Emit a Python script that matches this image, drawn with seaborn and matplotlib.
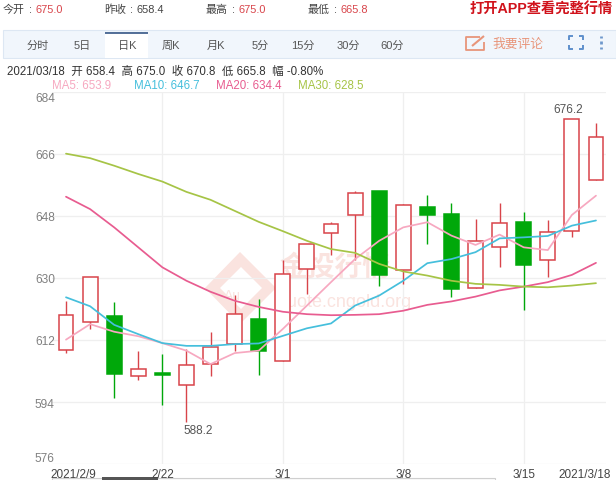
import matplotlib
matplotlib.use("Agg")
import matplotlib.pyplot as plt
from matplotlib.patches import Rectangle, Polygon
from matplotlib.lines import Line2D
from matplotlib.transforms import ScaledTranslation
import numpy as np
import pandas as pd
import seaborn as sns

# Daily candles, 2021/2/9 - 2021/3/18
opens = [609.2, 617.2, 619.1, 601.5, 602.4, 598.9, 605.0, 610.8, 618.1, 605.8, 632.7, 643.2,
         648.4, 655.3, 632.2, 650.6, 648.5, 627.1, 639.0, 646.3, 635.3, 643.6, 658.4]
closes = [619.3, 630.4, 602.0, 603.7, 601.8, 604.6, 609.9, 619.5, 608.9, 631.3, 639.9, 645.6,
          654.7, 631.0, 651.1, 648.4, 626.7, 640.8, 645.9, 633.8, 643.4, 676.2, 670.8]
highs = [623.2, 630.4, 623.0, 608.8, 607.9, 609.3, 614.3, 625.2, 623.8, 635.1, 639.9, 646.3,
         655.3, 655.3, 651.4, 654.0, 651.7, 647.0, 651.7, 649.2, 646.7, 676.2, 675.0]
lows = [608.2, 615.3, 595.2, 600.3, 593.0, 588.2, 601.5, 608.7, 601.9, 605.8, 625.4, 636.6,
        635.3, 627.7, 628.3, 640.0, 624.5, 627.1, 633.2, 620.6, 630.3, 641.9, 658.4]

# Moving averages
ma5 = [612.1, 616.6, 614.4, 613.1, 611.1, 608.9, 605.0, 608.2, 608.9, 615.2, 622.0, 628.8,
       635.5, 640.8, 644.7, 646.2, 642.3, 639.6, 642.6, 638.9, 638.1, 648.3, 653.9]
ma10 = [624.4, 621.8, 616.4, 613.7, 611.1, 610.3, 610.3, 610.8, 611.0, 613.2, 615.4, 616.8,
        622.0, 624.9, 629.2, 634.3, 635.5, 637.5, 641.5, 641.8, 642.2, 645.2, 646.7]
ma20 = [653.6, 650.0, 644.7, 638.9, 633.1, 629.2, 626.0, 623.4, 621.6, 620.2, 619.5, 619.2,
        619.3, 619.5, 620.5, 622.2, 623.2, 624.6, 626.4, 627.5, 628.8, 630.9, 634.4]
ma30 = [666.1, 664.8, 662.6, 660.2, 658.0, 655.0, 652.7, 649.5, 646.3, 643.6, 640.8, 638.4,
        637.3, 634.1, 631.9, 630.7, 629.2, 628.3, 628.0, 627.5, 627.3, 627.8, 628.5]

y_ticks = [576, 594, 612, 630, 648, 666, 684]
x_tick_pos = [0, 4, 9, 14, 19, 22]
x_tick_labels = ["2021/2/9", "2/22", "3/1", "3/8", "3/15", "2021/3/18"]
tabs = ["分时", "5日", "日K", "周K", "月K", "5分", "15分", "30分", "60分"]
ma_names = ["MA5", "MA10", "MA20", "MA30"]
ma_colors = ["#f7a8c0", "#45bfdc", "#e85c90", "#a6c446"]

W, H = 616, 481
FONT = ["Liberation Sans", "Noto Sans CJK SC"]
RED, GREEN = "#d8444a", "#00a80a"
GRID = "#efefef"

sns.set_theme(style="white")
plt.rcParams["font.family"] = FONT

fig = plt.figure(figsize=(W / 100, H / 100), dpi=100, facecolor="white")


def fx(x):
    return x / W


def fy(y):
    return 1 - y / H


def label(x, y, s, color="#333333", size=8.3, ha="left", **kw):
    fig.text(fx(x), fy(y), s, color=color, fontsize=size, ha=ha, va="center", family=FONT, **kw)


def box(x0, y0, x1, y1, **kw):
    fig.add_artist(Rectangle((fx(x0), fy(y1)), (x1 - x0) / W, (y1 - y0) / H,
                             transform=fig.transFigure, **kw))


def stroke(xs, ys, color, lw=1.6):
    fig.add_artist(Line2D([fx(v) for v in xs], [fy(v) for v in ys], color=color, lw=lw,
                          transform=fig.transFigure, solid_capstyle="butt"))


# Quote summary row
summary = [(3, "今开", "675.0", RED), (104, "昨收", "658.4", "#444444"),
           (206, "最高", "675.0", RED), (308, "最低", "665.8", RED)]
for x0, head, num, col in summary:
    label(x0, 10, head, color="#444444", size=7.9)
    label(x0 + 26, 10, ":", color="#444444", size=7.9)
    label(x0 + 32.5, 10, num, color=col, size=7.9)
label(613, 10, "打开APP查看完整行情", color="#d0121b", size=10.3, ha="right", fontweight="bold")

# Period tab bar
box(3, 31, 616, 58.5, facecolor="#f1f6fc", edgecolor="#dde7f3", lw=0.8)
box(105, 34, 148, 59, facecolor="white", edgecolor="none")
stroke([105, 148], [34, 34], "#24487c", 1.1)
for cx, tab in zip([38, 82, 127, 171, 216, 260, 303, 348, 392], tabs):
    label(cx, 46, tab, color="#555555", size=8.0, ha="center")

# Comment button and toolbar icons
orange = "#e8957a"
stroke([480, 466, 466, 484, 484], [38, 38, 51, 51, 43], orange, 1.3)
stroke([472, 484], [47, 37], orange, 1.5)
label(492, 44.5, "我要评论", color=orange, size=9.2)
blue = "#5f90cc"
for xs, ys in [([569, 569, 573], [41, 37, 37]), ([579, 583, 583], [37, 37, 41]),
               ([569, 569, 573], [46, 50, 50]), ([579, 583, 583], [50, 50, 46])]:
    stroke(xs, ys, blue, 1.4)
for dot_y in (38, 43.5, 49):
    stroke([601, 601], [dot_y - 1.2, dot_y + 1.2], "#6f98cc", 2)

# Selected-day readout and moving-average values
readout = "2021/03/18  开 658.4  高 675.0  收 670.8  低 665.8  幅 -0.80%"
label(7, 72, readout, color="#333333", size=8.3)
for x0, name, values, col in zip([52, 134, 216, 298], ma_names, [ma5, ma10, ma20, ma30], ma_colors):
    label(x0, 86, f"{name}: {values[-1]:.1f}", color=col, size=8.3)

# Faint site watermark, kept beneath the price panel
wm = "#fae3df"
fig.add_artist(Polygon([(fx(240), fy(253)), (fx(276), fy(289)), (fx(240), fy(325)), (fx(205), fy(289))],
                       closed=True, facecolor=wm, edgecolor="none", transform=fig.transFigure, zorder=0))
fig.add_artist(Polygon([(fx(241), fy(268)), (fx(262), fy(289)), (fx(241), fy(310)), (fx(220), fy(289))],
                       closed=True, facecolor="white", edgecolor="none", transform=fig.transFigure, zorder=0))
fig.text(fx(232), fy(296), "Au", color=wm, fontsize=10, ha="center", va="center", zorder=0.5)
fig.text(fx(279), fy(268), "金投行情", color=wm, fontsize=20, va="center", family=FONT, fontweight="bold", zorder=0.5)
fig.text(fx(277), fy(303), "quote.cngold.org", color=wm, fontsize=13, va="center", family=FONT, zorder=0.5)

# Price panel
ax = fig.add_axes([52 / W, 1 - 465 / H, (606 - 52) / W, (465 - 93) / H], facecolor="none", zorder=1)
ax.set_xlim(-14 / 24.09, 540 / 24.09)
ax.set_ylim(576, 684)

x = np.arange(len(opens))
frame = pd.DataFrame({"open": opens, "close": closes, "high": highs, "low": lows}, index=x)
rising = frame["close"] >= frame["open"]
body_w = 0.62

for i, row in frame.iterrows():
    up = rising[i]
    col = RED if up else GREEN
    lo, hi = sorted((row["open"], row["close"]))
    ax.vlines(i, row["low"], row["high"], color=col, lw=1.0, zorder=2)
    ax.bar(i, hi - lo, bottom=lo, width=body_w, facecolor="white" if up else GREEN,
           edgecolor=col, lw=1.1, zorder=3)

# Moving-average curves
ma_frame = pd.DataFrame({"idx": x, "MA5": ma5, "MA10": ma10, "MA20": ma20, "MA30": ma30}).melt(
    "idx", var_name="series", value_name="price")
sns.lineplot(data=ma_frame, x="idx", y="price", hue="series", hue_order=ma_names,
             palette=ma_colors, lw=1.25, legend=False, ax=ax, zorder=4, errorbar=None)

# Extreme price callouts
low_i = int(np.argmin(lows))
high_i = int(np.argmax(highs))
ax.annotate(f"{lows[low_i]:.1f}", (low_i, lows[low_i]), xytext=(-2.2, -1.5), textcoords="offset points",
            ha="left", va="top", color="#555555", fontsize=8.5, zorder=5)
ax.annotate(f"{highs[high_i]:.1f}", (high_i, highs[high_i]), xytext=(-3, 2.5), textcoords="offset points",
            ha="center", va="bottom", color="#555555", fontsize=8.5, zorder=5)

# Axes furniture
ax.set_xlabel("")
ax.set_ylabel("")
ax.set_yticks(y_ticks)
ax.set_yticklabels([str(v) for v in y_ticks], color="#808080", fontsize=8.6)
ax.set_xticks(x_tick_pos)
ax.set_xticklabels(x_tick_labels, color="#444444", fontsize=8.5)
ax.tick_params(axis="y", length=0, pad=-2)
ax.tick_params(axis="x", length=0, pad=3.2)
ax.grid(True, color=GRID, lw=0.9, zorder=0)
ax.set_axisbelow(True)
sns.despine(ax=ax, left=True, right=True, top=True, bottom=True)

# The first and last date labels carry no vertical rule
xgrid = ax.get_xgridlines()
xgrid[0].set_visible(False)
xgrid[-1].set_visible(False)

ytl = ax.get_yticklabels()
ytl[0].set_va("bottom")
ytl[-1].set_va("top")
xtl = ax.get_xticklabels()
xtl[0].set_transform(xtl[0].get_transform() + ScaledTranslation(7 / 100, 0, fig.dpi_scale_trans))
xtl[-1].set_transform(xtl[-1].get_transform() + ScaledTranslation(-11 / 100, 0, fig.dpi_scale_trans))

# Range slider peeking in along the bottom edge
box(52, 478.5, 495, 482, facecolor="#fafafa", edgecolor="#cfcfcf", lw=0.8)
box(102, 478, 158, 482, facecolor="#555555", edgecolor="none")

fig.savefig("out.png", dpi=100, facecolor="white")
